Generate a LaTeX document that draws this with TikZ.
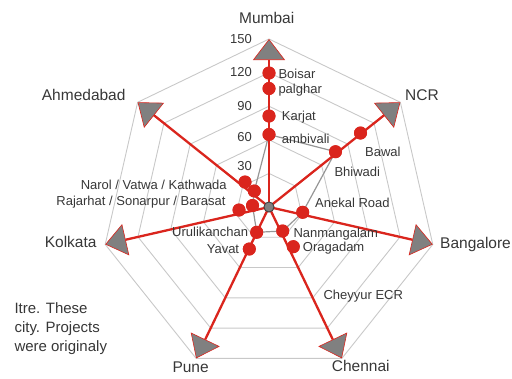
\documentclass[tikz,border=0pt]{standalone}
\usepackage{fontspec}
\setmainfont{Liberation Sans}
\usetikzlibrary{arrows.meta}
\definecolor{spokered}{RGB}{218,37,29}
\definecolor{gridgray}{RGB}{200,200,200}
\definecolor{tipgray}{RGB}{128,128,128}
\definecolor{txt}{RGB}{55,55,55}
\definecolor{seriesgray}{RGB}{150,150,150}

\begin{document}
\begin{tikzpicture}[x=1pt,y=-1pt,
  gridline/.style={draw=gridgray,line width=0.9pt,line join=miter},
  spoke/.style={draw=spokered,line width=2.3pt,
    -{Triangle[length=21pt,width=32pt,fill=tipgray,line width=0.6pt]}},
  rdot/.style={circle,fill=spokered,inner sep=0pt,minimum size=13pt},
  hub/.style={circle,fill=tipgray,draw=black!75,line width=0.8pt,inner sep=0pt,minimum size=10pt},
  inner/.style={draw=seriesgray,line width=1.2pt},
  axislab/.style={text=txt,font=\fontsize{15.5}{18}\selectfont,inner sep=0pt},
  ptlab/.style={text=txt,font=\fontsize{13}{15}\selectfont,inner sep=0pt},
  notelab/.style={text=txt,font=\fontsize{15}{18}\selectfont,inner sep=0pt,anchor=base west}
]
\useasboundingbox (0,0) rectangle (512,378);

% concentric heptagons for 30 ... 150
\begin{scope}[shift={(269,207)}]
  \foreach \r in {33.6,67.2,100.8,134.4,168}
    \draw[gridline] (-90:\r) -- (-38.57:\r) -- (12.86:\r) -- (64.29:\r)
      -- (115.71:\r) -- (167.14:\r) -- (218.57:\r) -- cycle;
  \coordinate (tMumbai)    at (-90:168);
  \coordinate (tNCR)       at (-38.57:168);
  \coordinate (tBangalore) at (12.86:168);
  \coordinate (tChennai)   at (64.29:168);
  \coordinate (tPune)      at (115.71:168);
  \coordinate (tKolkata)   at (167.14:168);
  \coordinate (tAhmedabad) at (218.57:168);
\end{scope}

% project locations
\node[rdot] (mBoisar)   at (269,73) {};
\node[rdot] (mPalghar)  at (269,88.5) {};
\node[rdot] (mKarjat)   at (269,116) {};
\node[rdot] (mAmbivali) at (269,134.5) {};
\node[rdot] (mBawal)    at (360.5,133) {};
\node[rdot] (mBhiwadi)  at (335.5,151.7) {};
\node[rdot] (mAnekal)   at (302.7,212.3) {};
\node[rdot] (mNanman)   at (282.7,231) {};
\node[rdot] (mOragadam) at (293.3,246.7) {};
\node[rdot] (mUruli)    at (256.7,232.3) {};
\node[rdot] (mYavat)    at (249.3,249) {};
\node[rdot] (mKolA)     at (239,210) {};
\node[rdot] (mKolB)     at (252.5,205.5) {};
\node[rdot] (mAhmA)     at (245,182) {};
\node[rdot] (mAhmB)     at (254.3,191) {};

% inner outline through the nearest locations
\draw[inner] (mAmbivali.center) -- (mBhiwadi.center) -- (mAnekal.center)
  -- (mNanman.center) -- (mUruli.center) -- (mKolB.center) -- (mAhmB.center) -- cycle;

\node[hub] (c) at (269,207) {};

% spokes with arrow heads
\foreach \t in {tMumbai,tNCR,tBangalore,tChennai,tPune,tKolkata,tAhmedabad}
  \draw[spoke] (c.center) -- (\t);

% dots again, above the spokes
\foreach \m in {mBoisar,mPalghar,mKarjat,mAmbivali,mBawal,mBhiwadi,mAnekal,
  mNanman,mOragadam,mUruli,mYavat,mKolA,mKolB,mAhmA,mAhmB}
  \fill[spokered] (\m) circle (6.5pt);
\node[hub] at (c) {};

% city names
\node[axislab,anchor=base] (lMumbai) at (266.7,23) {Mumbai};
\node[axislab,anchor=base west] (lNCR) at (405,100) {NCR};
\node[axislab,anchor=base west] (lBangalore) at (440,248.3) {Bangalore};
\node[axislab,anchor=base west] (lChennai) at (331.7,371.5) {Chennai};
\node[axislab,anchor=base west] (lPune) at (172.3,372.5) {Pune};
\node[axislab,anchor=base east] (lKolkata) at (96.7,247.7) {Kolkata};
\node[axislab,anchor=base west] (lAhmedabad) at (41.7,100) {Ahmedabad};

% scale values
\node[ptlab,anchor=base east] (s150) at (252,43.3) {150};
\node[ptlab,anchor=base east] (s120) at (252,76.7) {120};
\node[ptlab,anchor=base east] (s90)  at (252,110) {90};
\node[ptlab,anchor=base east] (s60)  at (252,141.7) {60};
\node[ptlab,anchor=base east] (s30)  at (252,170) {30};

% location names
\node[ptlab,anchor=base west] (lBoisar) at (278.3,78.3) {Boisar};
\node[ptlab,anchor=base west] (lPalghar) at (278.3,93.3) {palghar};
\node[ptlab,anchor=base west] (lKarjat) at (281.7,120.7) {Karjat};
\node[ptlab,anchor=base west] (lAmbivali) at (281.7,143.3) {ambivali};
\node[ptlab,anchor=base west] (lBawal) at (365,156) {Bawal};
\node[ptlab,anchor=base west] (lBhiwadi) at (334.3,176.7) {Bhiwadi};
\node[ptlab,anchor=base west] (lAnekal) at (315,207.3) {Anekal Road};
\node[ptlab,anchor=base west] (lNanman) at (293.3,237.7) {Nanmangalam};
\node[ptlab,anchor=base west] (lOragadam) at (302.7,251.5) {Oragadam};
\node[ptlab,anchor=base west] (lCheyyur) at (323.3,299.3) {Cheyyur ECR};
\node[ptlab,anchor=base east] (lNarol) at (226.7,189.3) {Narol / Vatwa / Kathwada};
\node[ptlab,anchor=base east] (lRajarhat) at (225.7,205) {Rajarhat / Sonarpur / Barasat};
\node[ptlab,anchor=base east] (lUruli) at (248.3,236.7) {Urulikanchan};
\node[ptlab,anchor=base east] (lYavat) at (239.3,253.3) {Yavat};

% side note
\node[notelab] (n1) at (14.3,313.5) {Itre. These};
\node[notelab] (n2) at (14.3,332.5) {city. Projects};
\node[notelab] (n3) at (14.3,351.5) {were originaly};
\end{tikzpicture}
\end{document}
